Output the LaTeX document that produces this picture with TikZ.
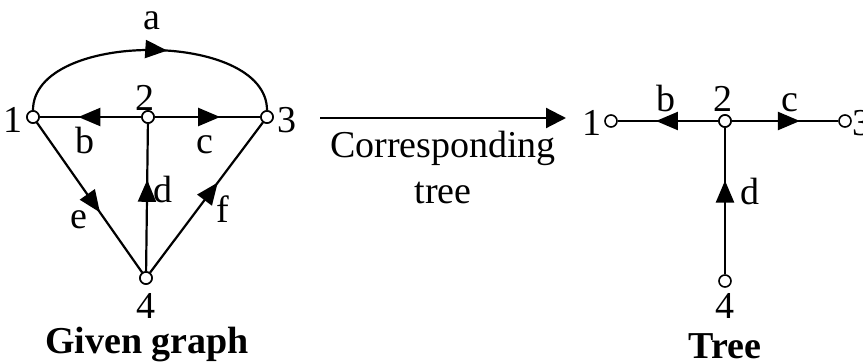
\documentclass[tikz,border=0pt]{standalone}
\usepackage{fontspec}
\setmainfont{Liberation Serif}
\usetikzlibrary{arrows.meta,decorations.markings}

\tikzset{
	vtx/.style={circle, draw, fill=white, inner sep=0pt, minimum size=6pt, line width=0.8pt},
	wire/.style={line width=1.1pt},
	lbl/.style={anchor=base, inner sep=0pt},
	midarrow/.style={postaction={decorate}, decoration={markings,
		mark=at position #1 with {\arrow{Triangle[length=11pt,width=9pt]}}}},
	midarrow/.default=0.62
}

\begin{document}
\begin{tikzpicture}[x=0.5pt, y=-0.5pt, every node/.style={font=\fontsize{19}{22}\selectfont}]
		\useasboundingbox (0,0) rectangle (863,364);
		
		% given graph
		\node[vtx] (g1) at (33,117) {};
		\node[vtx] (g2) at (148,117) {};
		\node[vtx] (g3) at (267,117) {};
		\node[vtx] (g4) at (146,278) {};
		
		\node[lbl] (g1t) at (13,132) {1};
		\node[lbl] (g2t) at (145,110) {2};
		\node[lbl] (g3t) at (287,132) {3};
		\node[lbl] (g4t) at (146,318) {4};
		
		\node[lbl] (la) at (152,30) {a};
		\node[lbl] (lb) at (85,153) {b};
		\node[lbl] (lc) at (205,153) {c};
		\node[lbl] (ld) at (163,202) {d};
		\node[lbl] (le) at (79,228) {e};
		\node[lbl] (lf) at (223,222) {f};
		
		\node[lbl] (gcap) at (147,353) {\bfseries Given graph};
		
		% corresponding tree
		\coordinate (arrL) at (320,118);
		\coordinate (arrR) at (566,118);
		\node[lbl] (cor) at (443,157) {Corresponding};
		\node[lbl] (cor2) at (443,203) {tree};
		
		% tree
		\node[vtx] (t1) at (611,121) {};
		\node[vtx] (t2) at (725,121) {};
		\node[vtx] (t3) at (845,121) {};
		\node[vtx] (t4) at (725,281) {};
		
		\node[lbl] (t1t) at (592,135) {1};
		\node[lbl] (t2t) at (723,112) {2};
		\node[lbl] (t3t) at (862,135) {3};
		\node[lbl] (t4t) at (725,318) {4};
		
		\node[lbl] (tb) at (666,112) {b};
		\node[lbl] (tc) at (790,112) {c};
		\node[lbl] (td) at (750,204) {d};
		
		\node[lbl] (tcap) at (725,358) {\bfseries Tree};
		
		%========================================================================
		% Arrows
		\draw[wire, midarrow=0.56] (g1) to[out=90, in=90, looseness=0.88] (g3);
		\draw[wire, midarrow] (g2) to (g1);
		\draw[wire, midarrow] (g2) to (g3);
		\draw[wire, midarrow] (g4) to (g2);
		\draw[wire, midarrow=0.6] (g1) to (g4);
		\draw[wire, midarrow=0.6] (g4) to (g3);
		\node[vtx] at (g1) {};
		\node[vtx] at (g2) {};
		\node[vtx] at (g3) {};
		\node[vtx] at (g4) {};
		
		\draw[wire, -{Triangle[length=10pt,width=10pt]}] (arrL) to (arrR);
		
		\draw[wire, midarrow] (t2) to (t1);
		\draw[wire, midarrow=0.64] (t2) to (t3);
		\draw[wire, midarrow=0.64] (t4) to (t2);
		\node[vtx] at (t2) {};
	\end{tikzpicture}
\end{document}
